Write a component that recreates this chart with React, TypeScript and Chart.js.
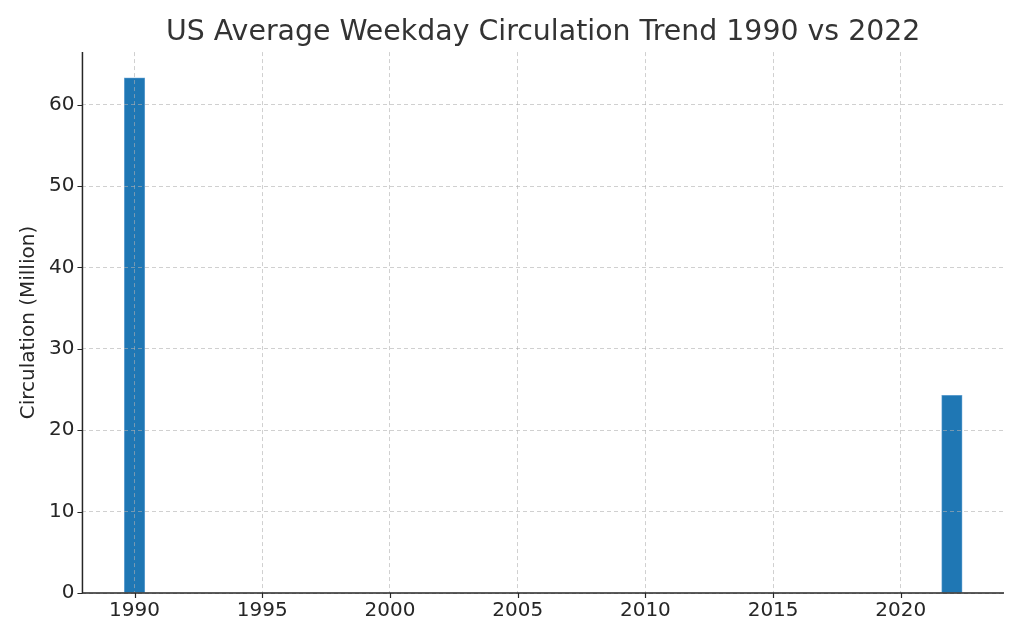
import React, { useEffect, useRef } from "react";
import { Chart, registerables } from "chart.js";

Chart.register(...registerables);

const years: number[] = [1990, 2022];
const circulation: number[] = [63.3, 24.3];
const xMin = 1987.96;
const xMax = 2024.04;
const yMax = 66.465;

const FONT = "'DejaVu Sans', sans-serif";

const axisLines = {
  id: "axisLines",
  afterDraw(chart: any) {
    const { ctx, chartArea } = chart;
    const xs = chart.scales.x;
    const ys = chart.scales.y;
    ctx.save();
    ctx.strokeStyle = "#262626";
    ctx.setLineDash([]);
    ctx.lineWidth = 1.2;
    ctx.beginPath();
    xs.ticks.forEach((t: any) => {
      const px = Math.round(xs.getPixelForValue(t.value)) + 0.5;
      ctx.moveTo(px, chartArea.bottom);
      ctx.lineTo(px, chartArea.bottom + 5);
    });
    ys.ticks.forEach((t: any) => {
      const py = Math.round(ys.getPixelForValue(t.value)) + 0.5;
      ctx.moveTo(chartArea.left, py);
      ctx.lineTo(chartArea.left - 5, py);
    });
    ctx.stroke();
    ctx.lineWidth = 1.5;
    ctx.beginPath();
    ctx.moveTo(chartArea.left, chartArea.top);
    ctx.lineTo(chartArea.left, chartArea.bottom);
    ctx.lineTo(chartArea.right, chartArea.bottom);
    ctx.stroke();
    ctx.restore();
  },
};

export default function App() {
  const ref = useRef<HTMLCanvasElement | null>(null);
  useEffect(() => {
    if (!ref.current) return;
    const gridOpts = {
      color: "rgba(176,176,176,0.6)",
      lineWidth: 1,
      drawTicks: false,
      offset: false,
      z: 1,
    };
    const chart = new Chart(ref.current, {
      type: "bar",
      data: {
        datasets: [
          {
            data: years.map((y, i) => ({ x: y, y: circulation[i] })),
            backgroundColor: "#1f77b4",
            borderColor: "#6fa8d6",
            borderWidth: 0.8,
            barThickness: 20.5,
          },
        ],
      },
      options: {
        responsive: false,
        animation: false,
        layout: { padding: { left: 17, right: 20, top: 0, bottom: 11 } },
        plugins: {
          legend: { display: false },
          tooltip: { enabled: false },
          title: {
            display: true,
            text: "US Average Weekday Circulation Trend 1990 vs 2022",
            fullSize: false,
            color: "#333333",
            font: { family: FONT, size: 28.4, weight: "normal" },
            padding: { top: 16, bottom: 2 },
          },
        },
        scales: {
          x: {
            type: "linear",
            min: xMin,
            max: xMax,
            offset: false,
            ticks: {
              stepSize: 5,
              includeBounds: false,
              color: "#262626",
              font: { family: FONT, size: 20 },
              padding: 6,
              maxRotation: 0,
              callback: (v: any) => String(v),
            },
            grid: gridOpts,
            border: { display: false, dash: [4, 3] },
          },
          y: {
            min: 0,
            max: yMax,
            ticks: {
              stepSize: 10,
              includeBounds: false,
              color: "#262626",
              font: { family: FONT, size: 20 },
              padding: 8,
            },
            grid: gridOpts,
            border: { display: false, dash: [4, 3] },
            title: {
              display: true,
              text: "Circulation (Million)",
              color: "#262626",
              font: { family: FONT, size: 20 },
              padding: { top: 0, bottom: 0 },
            },
          },
        },
      },
      plugins: [axisLines],
    } as any);
    return () => chart.destroy();
  }, []);
  return (
    <div style={{ position: "absolute", left: 0, top: 0, width: 1024, height: 640, background: "#fff" }}>
      <canvas ref={ref} width={1024} height={640} />
    </div>
  );
}
